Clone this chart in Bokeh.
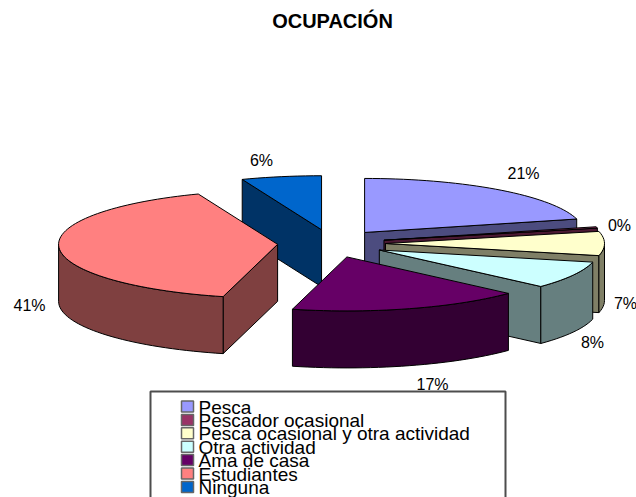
import math
from bokeh.plotting import figure
from bokeh.models import Range1d, ColumnDataSource
from bokeh.core.properties import value
from bokeh.embed import file_html
from bokeh.resources import INLINE

categories = ["Pesca", "Pescador ocasional", "Pesca ocasional y otra actividad",
              "Otra actividad", "Ama de casa", "Estudiantes", "Ninguna"]
shares = [21.0, 0.4, 7.2, 8.2, 17.2, 40.1, 5.9]
labels = ["21%", "0%", "7%", "8%", "17%", "41%", "6%"]
top_colors = ["#9999FF", "#993366", "#FFFFCC", "#CCFFFF", "#660066", "#FF8080", "#0066CC"]
side_colors = ["#4C4C7F", "#4C1933", "#7F7F66", "#667F7F", "#330033", "#7F4040", "#003366"]
title_text = "OCUPACIÓN"

CX, CY = 331, 243
RX, RY = 219, 54
EX, EY = 54, 14
DEPTH = 57
label_pos = [(523, 173), (619, 225), (625, 303), (592, 342), (432, 384), (29, 305), (261, 160)]

p = figure(width=636, height=497, output_backend="svg", toolbar_location=None,
           x_range=Range1d(0, 636), y_range=Range1d(497, 0),
           min_border=0, outline_line_color=None)
p.axis.visible = False
p.grid.visible = False


def pt(ax, ay, deg):
    a = math.radians(deg)
    return ax + RX * math.sin(a), ay - RY * math.cos(a)


bounds = []
c = 0.0
for s in shares:
    bounds.append((c * 3.6, (c + s) * 3.6))
    c += s

LW = 1.0
order = [0, 6, 5, 1, 2, 3, 4]
for i in order:
    a, b = bounds[i]
    m = (a + b) / 2
    ax = CX + EX * math.sin(math.radians(m))
    ay = CY - EY * math.cos(math.radians(m))
    n = max(2, int((b - a) / 2))
    arc = [a + (b - a) * k / n for k in range(n + 1)]
    for deg, visible in ((a, math.sin(math.radians(a)) < 0), (b, math.sin(math.radians(b)) > 0)):
        if visible:
            ex, ey = pt(ax, ay, deg)
            p.patch([ax, ex, ex, ax], [ay, ey, ey + DEPTH, ay + DEPTH], fill_color=side_colors[i],
                    line_color="black", line_width=LW)
    lo, hi = max(a, 90), min(b, 270)
    if lo < hi:
        k = max(2, int((hi - lo) / 2))
        front = [lo + (hi - lo) * j / k for j in range(k + 1)]
        xy = [pt(ax, ay, d) for d in front]
        xs = [q[0] for q in xy] + [q[0] for q in reversed(xy)]
        ys = [q[1] for q in xy] + [q[1] + DEPTH for q in reversed(xy)]
        p.patch(xs, ys, fill_color=side_colors[i], line_color="black", line_width=LW)
    xy = [pt(ax, ay, d) for d in arc]
    p.patch([ax] + [q[0] for q in xy], [ay] + [q[1] for q in xy],
            fill_color=top_colors[i], line_color="black", line_width=LW)

src = ColumnDataSource(dict(x=[q[0] for q in label_pos], y=[q[1] for q in label_pos], t=labels))
p.text("x", "y", text="t", source=src, text_align="center", text_baseline="middle",
       text_font=value("Liberation Sans"), text_font_size="16px", text_color="black")

p.text([332], [20], text=[title_text], text_align="center", text_baseline="middle",
       text_font=value("Liberation Sans"), text_font_size="20px", text_font_style="bold",
       text_color="black")

# legend frame: open at the bottom, it runs past the picture's edge
p.line([150, 150, 505, 505], [510, 391, 391, 510], line_color="#4d4d4d", line_width=2)

rows = [406 + 13.4 * k for k in range(len(categories))]
p.rect([187] * len(rows), rows, width=12, height=11, fill_color=top_colors, line_color="#666666", line_width=1.5)
p.text([198] * len(rows), [y + 0.5 for y in rows], text=categories, text_align="left", text_baseline="middle",
       text_font=value("Liberation Sans"), text_font_size="19px", text_color="black")

open("out.html", "w").write(file_html(p, INLINE))
